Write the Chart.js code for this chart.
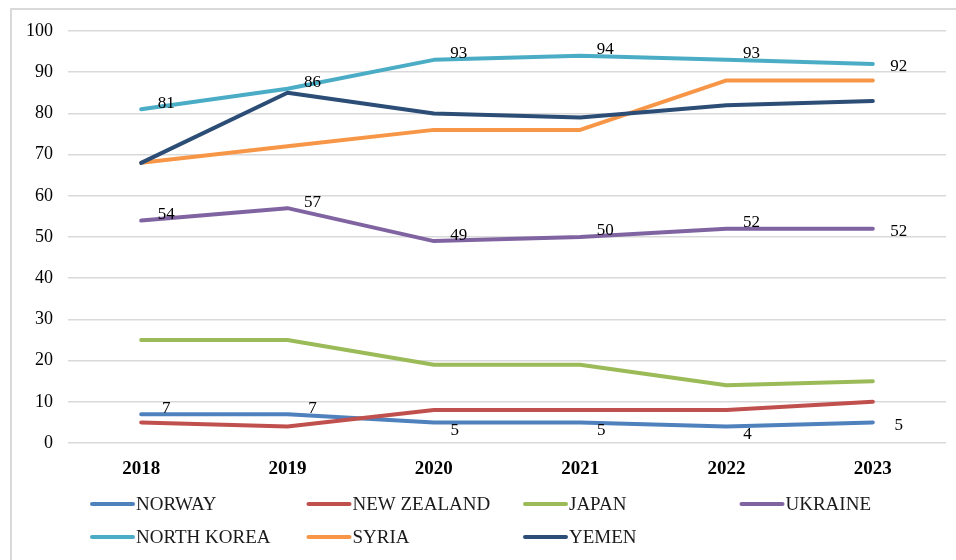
<!DOCTYPE html>
<html>
<head>
<meta charset="utf-8">
<script src="https://cdn.jsdelivr.net/npm/chart.js@4/dist/chart.umd.min.js"></script>
<style>
  html, body { margin: 0; padding: 0; background: #fff; }
  #wrap { position: relative; width: 956px; height: 560px; overflow: hidden; }
  #frame { position: absolute; left: 10px; top: 8px; width: 1000px; height: 600px;
           border: 2px solid #d9d9d9; box-sizing: border-box; }
  canvas { position: absolute; left: 0; top: 0; }
</style>
</head>
<body>
<div id="wrap">
  <div id="frame"></div>
  <canvas id="chart" width="956" height="560"></canvas>
</div>
<script>
//  Data 
const years = ['2018', '2019', '2020', '2021', '2022', '2023'];

const norway     = [7, 7, 5, 5, 4, 5];
const newZealand = [5, 4, 8, 8, 8, 10];
const japan      = [25, 25, 19, 19, 14, 15];
const ukraine    = [54, 57, 49, 50, 52, 52];
const northKorea = [81, 86, 93, 94, 93, 92];
const syria      = [68, 72, 76, 76, 88, 88];
const yemen      = [68, 85, 80, 79, 82, 83];

const seriesNames = ['NORWAY', 'NEW ZEALAND', 'JAPAN', 'UKRAINE', 'NORTH KOREA', 'SYRIA', 'YEMEN'];
const seriesData  = [norway, newZealand, japan, ukraine, northKorea, syria, yemen];
const seriesColors = ['#4f81bd', '#c0504d', '#9bbb59', '#8064a2', '#4bacc6', '#f79646', '#2c4d75'];

// series that carry value labels in the original
const labelled = ['NORWAY', 'UKRAINE', 'NORTH KOREA'];

const yTicks = { min: 0, max: 100, step: 10 };

const SERIF = '"Liberation Serif", "DejaVu Serif", serif';

//  Value labels 
function labelOffset(name, i, last) {
  if (i === last) return { dx: 26, dy: 3 };
  if (name === 'NORWAY' && i >= 2) return { dx: 21, dy: 8 };
  return { dx: 25, dy: -6 };
}

const valueLabels = {
  id: 'valueLabels',
  afterDatasetsDraw(chart) {
    const ctx = chart.ctx;
    ctx.save();
    ctx.font = '17px ' + SERIF;
    ctx.fillStyle = '#000';
    ctx.textAlign = 'center';
    ctx.textBaseline = 'middle';
    chart.data.datasets.forEach((ds, di) => {
      if (!labelled.includes(ds.label)) return;
      const meta = chart.getDatasetMeta(di);
      meta.data.forEach((pt, i) => {
        const o = labelOffset(ds.label, i, meta.data.length - 1);
        ctx.fillText(String(ds.data[i]), pt.x + o.dx, pt.y + o.dy);
      });
    });
    ctx.restore();
  }
};

//  Legend (4 columns, Excel style) 
const gridLegend = {
  id: 'gridLegend',
  afterDraw(chart) {
    const ctx = chart.ctx;
    const x0 = 92, colW = 216.5, y0 = 504, rowH = 33, lineLen = 41;
    ctx.save();
    ctx.font = '19px ' + SERIF;
    ctx.textBaseline = 'middle';
    ctx.textAlign = 'left';
    seriesNames.forEach((name, i) => {
      const x = x0 + (i % 4) * colW;
      const y = y0 + Math.floor(i / 4) * rowH;
      ctx.strokeStyle = seriesColors[i];
      ctx.lineWidth = 4;
      ctx.lineCap = 'round';
      ctx.beginPath();
      ctx.moveTo(x, y);
      ctx.lineTo(x + lineLen, y);
      ctx.stroke();
      ctx.fillStyle = '#1a1a1a';
      ctx.fillText(name, x + lineLen + 3, y + 1);
    });
    ctx.restore();
  }
};

//  Chart 
// datasets reversed so the first series is drawn first, as in the original
new Chart(document.getElementById('chart'), {
  type: 'line',
  data: {
    labels: years,
    datasets: seriesNames.map((name, i) => ({
      label: name,
      data: seriesData[i],
      borderColor: seriesColors[i],
      backgroundColor: seriesColors[i],
      borderWidth: 4,
      pointRadius: 0,
      tension: 0,
      fill: false,
      borderCapStyle: 'round',
      borderJoinStyle: 'round'
    })).reverse()
  },
  options: {
    responsive: false,
    animation: false,
    devicePixelRatio: 1,
    layout: { padding: { left: 10, right: 10, top: 31, bottom: 77 } },
    plugins: {
      legend: { display: false },
      tooltip: { enabled: false }
    },
    scales: {
      x: {
        offset: true,
        grid: { display: false },
        border: { display: false },
        ticks: { color: '#000', padding: 7, font: { family: SERIF, size: 19, weight: 'bold' } },
        afterFit: s => { s.height = 40; }
      },
      y: {
        min: yTicks.min,
        max: yTicks.max,
        ticks: { stepSize: yTicks.step, color: '#000', padding: 15, font: { family: SERIF, size: 18 } },
        grid: { color: '#d9d9d9', lineWidth: 1.5, drawTicks: false },
        border: { display: false },
        afterFit: s => { s.width = 58; }
      }
    }
  },
  plugins: [valueLabels, gridLegend]
});
</script>
</body>
</html>
